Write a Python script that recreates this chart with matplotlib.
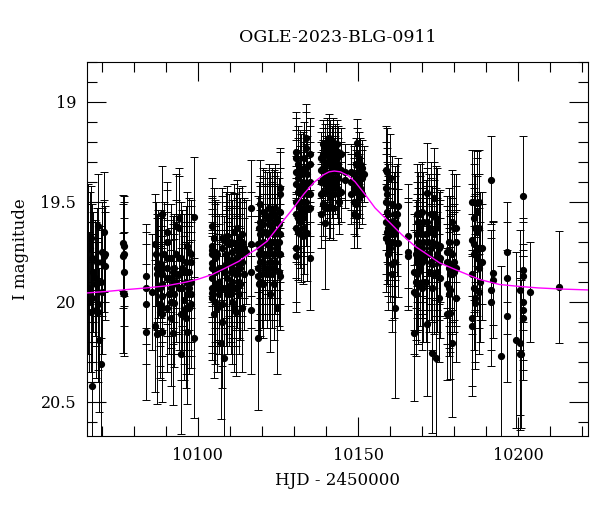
import numpy as np
import matplotlib
matplotlib.use('Agg')
import matplotlib.pyplot as plt
from matplotlib.ticker import MultipleLocator, FormatStrFormatter

# light curve of OGLE-2023-BLG-0911 (EWS style plot)
# one entry per time column, several points can share a column
obs_hjd = [10065.8, 10066.1, 10066.4, 10066.6, 10067.1, 10067.4, 10067.9, 10068.2, 10068.5, 10068.7,
           10068.9, 10069.2, 10069.9, 10070.2, 10070.6, 10070.8, 10071.0,
           10076.6, 10076.8, 10077.0,
           10083.9, 10085.8, 10086.5, 10086.8, 10087.2, 10087.6, 10088.2, 10088.4, 10088.9, 10089.4,
           10090.5, 10091.0, 10091.5, 10092.1, 10092.6, 10093.1, 10094.1, 10094.6, 10095.2, 10095.7,
           10096.2, 10096.7, 10097.2, 10097.8, 10098.8,
           10104.5, 10105.0, 10105.5, 10106.1, 10106.6, 10107.1, 10107.6, 10108.1, 10108.7, 10109.2,
           10109.7, 10110.2, 10110.7, 10111.2, 10111.8, 10112.3, 10112.8, 10113.3, 10113.8, 10114.4,
           10114.9, 10116.7,
           10118.7, 10119.0, 10119.5, 10120.0, 10120.5, 10121.1, 10121.6, 10122.1, 10122.6, 10123.1,
           10123.7, 10124.2, 10124.7, 10125.2, 10125.7,
           10130.7, 10131.2, 10131.8, 10132.2, 10132.8, 10133.2, 10133.8, 10134.2, 10134.9,
           10138.5, 10139.0, 10139.7, 10140.3, 10140.8, 10141.3, 10141.8, 10142.3, 10142.9, 10143.4,
           10143.9, 10144.2, 10144.8, 10145.8,
           10147.9, 10148.6, 10148.9, 10149.3, 10149.6, 10150.2, 10150.7, 10151.2, 10152.0,
           10158.7, 10159.0, 10159.5, 10160.0, 10160.5, 10161.1, 10161.6, 10162.1, 10162.6,
           10165.7, 10167.6, 10168.0, 10168.3, 10168.8, 10169.4, 10169.9, 10170.4,
           10171.2, 10171.6, 10172.2, 10172.7, 10173.2, 10173.7, 10174.2, 10174.7, 10175.3, 10175.7,
           10177.8, 10178.4, 10178.8, 10179.4, 10179.9, 10180.5,
           10185.6, 10186.1, 10186.6, 10187.1, 10187.7, 10188.2, 10188.8,
           10191.6, 10192.1, 10194.6, 10196.5, 10199.4, 10200.5, 10201.0, 10201.5, 10203.6, 10212.6]

obs_mag = [
    [19.71, 19.93], [20.00], [19.73], [19.68, 20.05], [19.78, 19.98, 20.42], [19.85], [19.88],
    [19.91, 20.04], [19.80], [20.01], [19.62, 20.05], [20.19], [19.90, 20.31], [19.75, 19.80, 19.95],
    [19.77], [19.65], [19.76, 19.82],
    [19.705, 19.77, 19.955], [19.72, 19.85], [19.76, 19.96],
    [19.87, 19.93, 20.01, 20.15], [19.95], [19.71, 20.12], [19.76], [19.83, 19.86, 20.16], [19.81],
    [19.84, 19.85, 19.93, 20.01, 20.05], [19.81], [19.56, 19.83, 19.86, 19.91, 19.97, 20.03, 20.06, 20.15],
    [19.76],
    [19.65, 19.70, 19.78, 19.83, 19.88, 20.03], [19.96], [19.78, 19.88, 19.93, 20.00, 20.08],
    [19.85, 19.91, 20.155], [19.83, 19.96, 20.005], [19.62, 19.76, 19.86, 19.90],
    [19.58, 19.63, 19.78, 19.86, 19.93], [19.78, 20.06, 20.26], [19.83, 19.93], [19.85, 19.99, 20.05],
    [19.80, 19.85, 19.90, 20.03, 20.08], [19.72, 19.96, 20.15], [19.75, 19.85, 19.93, 20.03],
    [19.76, 19.80, 19.90, 19.96, 20.01], [19.575, 20.18],
    [19.62, 19.72, 19.74, 19.76, 19.805, 19.83, 19.88, 19.93, 19.955, 19.98], [19.68, 20.06],
    [19.75, 19.78, 19.85, 19.91, 20.00], [19.76, 19.93, 20.03], [19.83, 19.90, 19.96], [20.205],
    [19.68, 19.73, 19.83, 19.93, 20.01, 20.10], [19.85, 20.28], [19.70, 19.76, 19.81, 19.93],
    [19.67, 19.78, 19.88, 19.96], [19.71, 19.80, 19.93], [19.70, 19.85, 19.91, 19.96],
    [19.75, 19.83, 19.90, 20.00], [19.65, 19.705, 19.80, 19.93, 20.03], [19.71, 19.78, 19.86, 19.93, 20.05],
    [19.63, 19.73, 19.80, 19.85], [19.68, 19.76, 19.90, 19.96], [19.73, 19.83, 19.91],
    [19.66, 19.70, 19.76, 19.80, 20.03], [19.73, 19.86], [19.75], [19.53, 19.71, 19.85, 20.04],
    [19.71, 19.83, 19.87, 20.18], [19.63, 19.76, 19.91], [19.51, 19.60, 19.66, 19.73, 19.80, 19.90],
    [19.76, 19.86], [19.55, 19.61, 19.70, 19.80, 19.91], [19.56, 19.65, 19.76, 19.83],
    [19.58, 19.66, 19.71, 19.86], [19.53, 19.61, 19.70, 19.76, 19.83], [19.58, 19.65, 19.73, 19.80, 19.96],
    [19.55, 19.63, 19.70, 19.86], [19.56, 19.66, 19.76, 19.83, 19.91], [19.53, 19.60, 19.70, 19.80],
    [19.58, 19.65, 19.73, 20.03], [19.61, 19.70, 19.76, 19.85], [19.43, 19.46, 19.55, 19.66, 19.76, 19.87],
    [19.25, 19.28, 19.35, 19.41, 19.50, 19.56, 19.63, 19.73, 19.77], [19.31, 19.38, 19.45, 19.51, 19.58, 19.65],
    [19.33, 19.43, 19.53, 19.60], [19.36, 19.46, 19.55, 19.66], [19.35, 19.40, 19.50, 19.58, 19.67],
    [19.28, 19.43, 19.55, 19.63], [19.18, 19.23, 19.33, 19.41, 19.50], [19.36, 19.46, 19.53, 19.655],
    [19.26, 19.31, 19.40, 19.46, 19.53, 19.78],
    [19.28, 19.34, 19.40, 19.46, 19.56], [19.21, 19.26, 19.33, 19.38, 19.45, 19.51],
    [19.23, 19.30, 19.35, 19.41, 19.53, 19.605], [19.20, 19.26, 19.31, 19.38, 19.45],
    [19.18, 19.23, 19.30, 19.36, 19.43, 19.53], [19.21, 19.28, 19.35, 19.40, 19.48, 19.52],
    [19.25, 19.31, 19.38, 19.43], [19.20, 19.26, 19.33, 19.40, 19.46, 19.53], [19.23, 19.30, 19.35, 19.41],
    [19.21, 19.28, 19.33, 19.43], [19.25, 19.31, 19.38, 19.46], [19.50], [19.26, 19.34, 19.45], [19.35, 19.39],
    [19.35, 19.40, 19.46], [19.36, 19.43, 19.50], [19.56], [19.31, 19.38, 19.45, 19.51],
    [19.205, 19.26, 19.40, 19.57], [19.28, 19.35, 19.41, 19.48], [19.31, 19.43], [19.33, 19.38, 19.46], [19.36],
    [19.34, 19.43, 19.50, 19.60, 19.68], [19.35, 19.46, 19.55, 19.65], [19.56, 19.63, 19.70, 19.76],
    [19.38, 19.60, 19.66, 19.73], [19.51, 19.63, 19.70, 19.81, 19.86], [19.60, 19.66, 19.80],
    [19.56, 19.63, 19.705, 20.03], [19.56, 19.61], [19.52, 19.705],
    [19.67, 19.75, 19.77], [19.85, 19.95, 20.155], [19.76, 19.90, 19.96], [19.56, 19.66, 19.73, 19.80, 19.86],
    [19.60, 19.70, 19.78, 19.85, 19.91], [19.56, 19.63, 19.76, 19.83], [19.55, 19.66, 19.73, 19.80, 19.93],
    [19.60, 19.70, 19.78, 19.90],
    [19.66, 19.76, 19.90], [19.455, 19.60, 19.70, 20.11], [19.63, 19.76, 19.85], [19.56, 19.65, 19.73, 19.80],
    [19.70, 19.81, 19.93, 20.255], [19.48, 19.56, 19.66, 19.86], [19.58, 19.63, 19.71, 19.78, 20.28],
    [19.60, 19.76, 19.85], [19.73, 19.80, 19.98], [19.72, 19.78, 19.88],
    [19.75, 19.80, 19.91, 20.06], [19.70, 19.83, 19.93, 19.96], [19.75, 19.86, 19.94, 20.055],
    [19.60, 19.76, 19.81, 19.86, 20.205], [19.63, 19.80, 19.85], [19.63, 19.70, 19.83, 19.98],
    [19.50, 19.69, 19.86, 20.08, 20.12], [19.50, 19.58, 19.71, 19.76, 19.93], [19.63, 19.75, 19.98, 20.005],
    [19.505, 19.55, 19.65, 19.78], [19.50, 19.63, 19.73, 19.83, 19.95], [19.73, 19.80, 19.90], [19.73, 19.80],
    [19.39, 19.94, 20.00], [19.855, 19.89], [20.27], [19.75, 19.88, 20.07], [20.19], [19.94, 20.205, 20.26],
    [20.26], [19.47, 19.84, 19.87, 20.00, 20.04, 20.08], [19.95], [19.925]]

obs_err = [
    [0.30, 0.33], [0.35], [0.28], [0.26, 0.30], [0.27, 0.32, 0.38], [0.30], [0.29],
    [0.31, 0.34], [0.27], [0.33], [0.26, 0.35], [0.36], [0.28, 0.37], [0.25, 0.27, 0.31],
    [0.28], [0.30], [0.24, 0.27],
    [0.24, 0.26, 0.30], [0.25, 0.27], [0.26, 0.31],
    [0.26, 0.28, 0.30, 0.34], [0.29], [0.25, 0.33], [0.26], [0.27, 0.28, 0.35], [0.27],
    [0.26, 0.28, 0.29, 0.31, 0.33], [0.27], [0.24, 0.27, 0.28, 0.29, 0.30, 0.32, 0.33, 0.35],
    [0.26],
    [0.25, 0.26, 0.27, 0.28, 0.29, 0.32], [0.30], [0.27, 0.29, 0.30, 0.31, 0.34],
    [0.28, 0.30, 0.36], [0.27, 0.30, 0.32], [0.26, 0.27, 0.29, 0.30],
    [0.25, 0.26, 0.28, 0.30, 0.31], [0.28, 0.33, 0.40], [0.29, 0.31], [0.29, 0.32, 0.34],
    [0.28, 0.29, 0.30, 0.33, 0.35], [0.27, 0.31, 0.36], [0.27, 0.29, 0.31, 0.33],
    [0.27, 0.28, 0.30, 0.31, 0.32], [0.30, 0.40],
    [0.24, 0.25, 0.26, 0.26, 0.27, 0.27, 0.28, 0.29, 0.30, 0.31], [0.25, 0.32],
    [0.26, 0.27, 0.28, 0.29, 0.31], [0.26, 0.29, 0.32], [0.27, 0.29, 0.30], [0.38],
    [0.25, 0.26, 0.27, 0.29, 0.31, 0.33], [0.28, 0.40], [0.25, 0.26, 0.27, 0.29],
    [0.25, 0.26, 0.28, 0.30], [0.25, 0.27, 0.29], [0.25, 0.27, 0.29, 0.30],
    [0.26, 0.27, 0.28, 0.31], [0.24, 0.25, 0.27, 0.29, 0.32], [0.25, 0.26, 0.28, 0.29, 0.32],
    [0.24, 0.25, 0.27, 0.28], [0.25, 0.26, 0.28, 0.30], [0.25, 0.27, 0.28],
    [0.24, 0.25, 0.26, 0.27, 0.32], [0.25, 0.28], [0.26], [0.24, 0.26, 0.28, 0.32],
    [0.24, 0.26, 0.27, 0.36], [0.23, 0.25, 0.27], [0.22, 0.23, 0.24, 0.25, 0.26, 0.27],
    [0.25, 0.27], [0.22, 0.23, 0.24, 0.26, 0.27], [0.22, 0.24, 0.25, 0.26],
    [0.23, 0.24, 0.25, 0.27], [0.22, 0.23, 0.24, 0.25, 0.26], [0.23, 0.24, 0.25, 0.26, 0.29],
    [0.22, 0.23, 0.24, 0.27], [0.22, 0.24, 0.25, 0.26, 0.28], [0.22, 0.23, 0.24, 0.26],
    [0.23, 0.24, 0.25, 0.33], [0.23, 0.24, 0.25, 0.27], [0.20, 0.21, 0.22, 0.24, 0.25, 0.27],
    [0.20, 0.20, 0.21, 0.22, 0.23, 0.24, 0.25, 0.27, 0.28], [0.19, 0.20, 0.21, 0.22, 0.23, 0.24],
    [0.19, 0.21, 0.22, 0.23], [0.20, 0.21, 0.22, 0.24], [0.20, 0.20, 0.22, 0.23, 0.24],
    [0.18, 0.21, 0.22, 0.23], [0.17, 0.18, 0.19, 0.20, 0.22], [0.19, 0.21, 0.22, 0.24],
    [0.18, 0.19, 0.20, 0.21, 0.22, 0.26],
    [0.13, 0.14, 0.15, 0.15, 0.17], [0.12, 0.13, 0.14, 0.14, 0.15, 0.16],
    [0.12, 0.13, 0.14, 0.15, 0.16, 0.33], [0.12, 0.13, 0.13, 0.14, 0.15],
    [0.12, 0.12, 0.13, 0.14, 0.15, 0.16], [0.12, 0.13, 0.14, 0.14, 0.15, 0.16],
    [0.13, 0.13, 0.14, 0.15], [0.12, 0.13, 0.13, 0.14, 0.15, 0.16], [0.12, 0.13, 0.14, 0.15],
    [0.12, 0.13, 0.13, 0.15], [0.13, 0.13, 0.14, 0.15], [0.16], [0.13, 0.14, 0.15], [0.14, 0.14],
    [0.14, 0.14, 0.15], [0.14, 0.15, 0.16], [0.17], [0.13, 0.14, 0.15, 0.16],
    [0.12, 0.13, 0.14, 0.16], [0.13, 0.14, 0.15, 0.15], [0.13, 0.15], [0.14, 0.14, 0.15], [0.14],
    [0.22, 0.23, 0.24, 0.26, 0.27], [0.22, 0.23, 0.25, 0.26], [0.25, 0.26, 0.27, 0.28],
    [0.22, 0.25, 0.26, 0.27], [0.24, 0.26, 0.27, 0.28, 0.29], [0.25, 0.26, 0.28],
    [0.24, 0.26, 0.27, 0.45], [0.25, 0.26], [0.24, 0.27],
    [0.26, 0.27, 0.27], [0.29, 0.31, 0.34], [0.27, 0.29, 0.31], [0.25, 0.26, 0.27, 0.28, 0.29],
    [0.25, 0.27, 0.28, 0.29, 0.30], [0.25, 0.26, 0.28, 0.29], [0.25, 0.26, 0.27, 0.28, 0.31],
    [0.25, 0.27, 0.28, 0.30],
    [0.27, 0.28, 0.30], [0.25, 0.27, 0.28, 0.36], [0.27, 0.28, 0.30], [0.26, 0.27, 0.28, 0.29],
    [0.28, 0.29, 0.31, 0.40], [0.25, 0.26, 0.27, 0.30], [0.26, 0.27, 0.28, 0.29, 0.40],
    [0.27, 0.28, 0.30], [0.28, 0.29, 0.32], [0.28, 0.29, 0.30],
    [0.28, 0.28, 0.30, 0.33], [0.27, 0.29, 0.30, 0.31], [0.28, 0.29, 0.31, 0.33],
    [0.26, 0.28, 0.29, 0.30, 0.37], [0.27, 0.29, 0.30], [0.27, 0.28, 0.29, 0.32],
    [0.26, 0.28, 0.30, 0.34, 0.35], [0.26, 0.27, 0.28, 0.29, 0.31], [0.27, 0.29, 0.32, 0.33],
    [0.26, 0.27, 0.28, 0.29], [0.26, 0.27, 0.28, 0.30, 0.31], [0.28, 0.29, 0.30], [0.28, 0.29],
    [0.22, 0.30, 0.32], [0.26, 0.29], [0.45], [0.25, 0.28, 0.33], [0.44], [0.30, 0.36, 0.38],
    [0.37], [0.30, 0.26, 0.27, 0.29, 0.30, 0.31], [0.25], [0.28]]

# fitted model curve
model_hjd = [10065.5, 10072.0, 10078.0, 10084.0, 10090.0, 10096.0, 10100.0, 10104.5, 10108.7, 10112.8,
             10116.4, 10118.0, 10121.6, 10125.7, 10129.9, 10133.0, 10136.1, 10139.2, 10141.0, 10142.6,
             10144.5, 10147.0, 10149.1, 10152.2, 10155.3, 10159.5, 10163.6, 10167.8, 10170.9, 10175.5,
             10181.7, 10188.0, 10194.2, 10200.0, 10206.2, 10214.0, 10221.7]
model_mag = [19.955, 19.947, 19.938, 19.930, 19.920, 19.902, 19.887, 19.863, 19.830, 19.797,
             19.755, 19.740, 19.697, 19.613, 19.530, 19.463, 19.405, 19.365, 19.350, 19.346,
             19.350, 19.370, 19.400, 19.463, 19.530, 19.597, 19.663, 19.722, 19.755, 19.805,
             19.847, 19.888, 19.913, 19.922, 19.930, 19.936, 19.940]

n_per_col = [len(m) for m in obs_mag]
hjd = np.repeat(obs_hjd, n_per_col)
mag = np.concatenate(obs_mag)
err = np.concatenate(obs_err)

plt.rcParams['font.family'] = ['DejaVu Serif']

fig = plt.figure(figsize=(6, 5.12), dpi=100)
ax = fig.add_axes([0.1455, 0.1484, 0.834, 0.731])

ax.errorbar(hjd, mag, yerr=err, fmt='o', color='black', ms=4.2,
            elinewidth=0.7, capsize=3, capthick=0.7, zorder=2)
ax.plot(model_hjd, model_mag, color='#ff00ff', lw=1.0, zorder=3)

ax.set_xlim(10065.5, 10221.7)
ax.set_ylim(20.67, 18.80)

ax.xaxis.set_major_locator(MultipleLocator(50))
ax.xaxis.set_minor_locator(MultipleLocator(10))
ax.yaxis.set_major_locator(MultipleLocator(0.5))
ax.yaxis.set_minor_locator(MultipleLocator(0.1))
ax.yaxis.set_major_formatter(FormatStrFormatter('%g'))

ax.tick_params(which='both', direction='in', top=True, right=True, width=0.8, labelsize=11.5)
ax.tick_params(which='major', length=14, pad=8)
ax.tick_params(which='minor', length=7)
for s in ax.spines.values():
    s.set_linewidth(0.8)

ax.set_title('OGLE-2023-BLG-0911', fontsize=12.5, pad=14)
ax.set_xlabel('HJD - 2450000', fontsize=12, labelpad=6)
ax.set_ylabel('I magnitude', fontsize=12, labelpad=8)

fig.savefig('out.png', dpi=100)
